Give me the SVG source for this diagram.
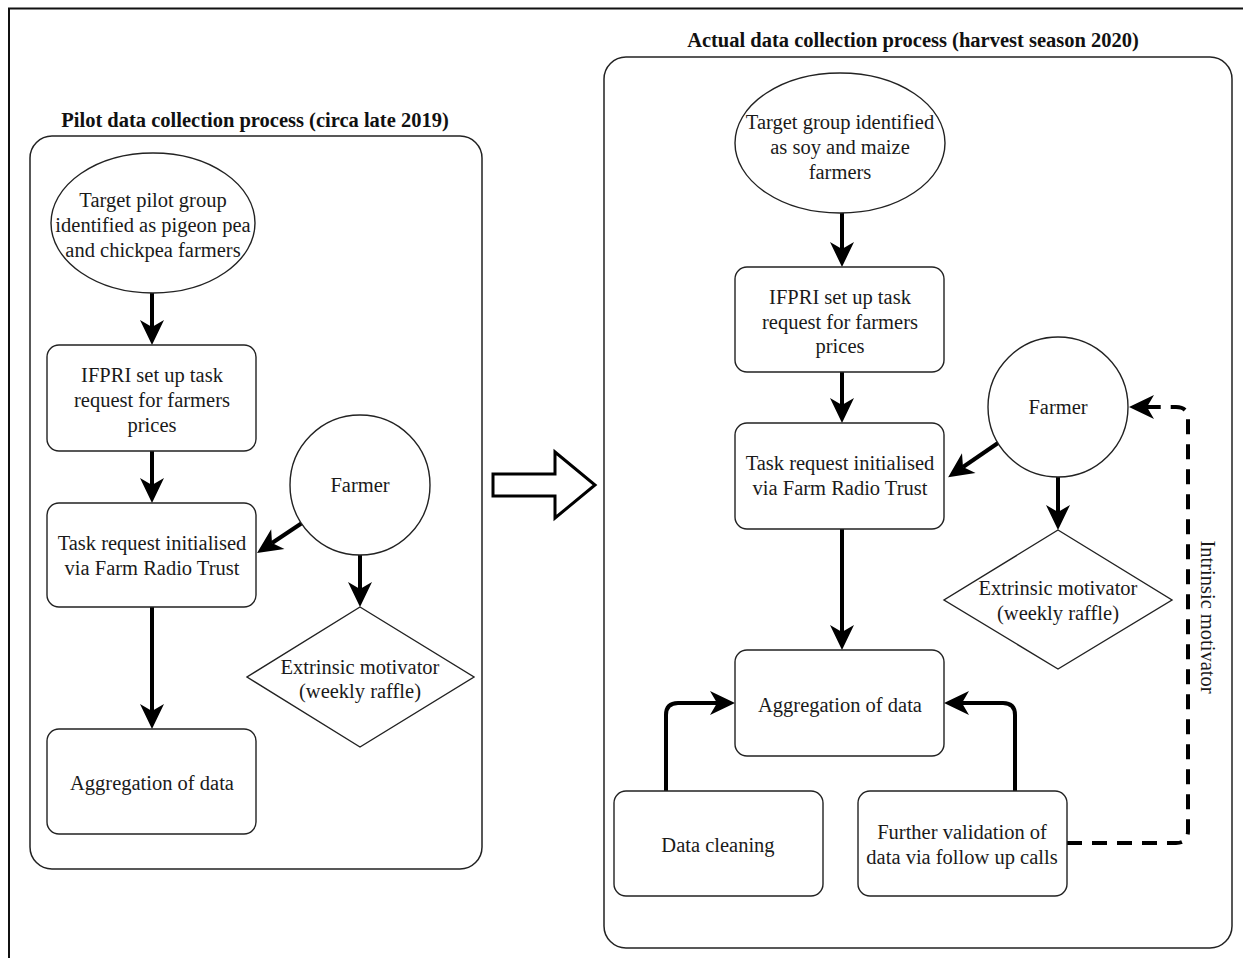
<svg xmlns="http://www.w3.org/2000/svg" width="1243" height="958" viewBox="0 0 1243 958">
<style>
.t{font-family:"Liberation Serif","Times New Roman",serif;font-size:20.5px;fill:#1a1a1a;text-anchor:middle}
.h{font-family:"Liberation Serif","Times New Roman",serif;font-size:20.5px;font-weight:bold;fill:#111;text-anchor:middle}
.n{fill:#fff;stroke:#222;stroke-width:1.4}
.c{fill:none;stroke:#222;stroke-width:1.5}
.e{fill:none;stroke:#000;stroke-width:4;marker-end:url(#ah)}
.d{fill:none;stroke:#000;stroke-width:4;stroke-dasharray:15 10;marker-end:url(#ah)}
</style>
<defs>
<marker id="ah" markerUnits="userSpaceOnUse" orient="auto" refX="0" refY="0" markerWidth="30" markerHeight="30" overflow="visible">
<path d="M18,0 L-7,-12 L0,0 L-7,12 Z" fill="#000"/>
</marker>
</defs>
<rect width="1243" height="958" fill="#fff"/>
<g id="frame">
<path d="M9,958 V8.5 H1243" fill="none" stroke="#111" stroke-width="2"/>
</g>
<g id="pilot-container">
<rect class="c" x="30" y="136" width="452" height="733" rx="22"/>
<text class="h" x="255" y="127">Pilot data collection process (circa late 2019)</text>
</g>
<g id="actual-container">
<rect class="c" x="604" y="57" width="628" height="891" rx="22"/>
<text class="h" x="913" y="47">Actual data collection process (harvest season 2020)</text>
</g>
<g id="transition-arrow">
<polygon points="493,474 555,474 555,452 595,485 555,518 555,496 493,496" fill="#fff" stroke="#000" stroke-width="3" stroke-linejoin="miter"/>
</g>
<g id="connectors">
<path class="e" d="M152,293 V327"/>
<path class="e" d="M152,451 V485"/>
<path class="e" d="M152,607 V711"/>
<path class="e" d="M302,523 L272,543"/>
<path class="e" d="M360,555 V589"/>
<path class="e" d="M842,213 V249"/>
<path class="e" d="M842,372 V405"/>
<path class="e" d="M842,529 V632"/>
<path class="e" d="M998,443 L963,467"/>
<path class="e" d="M1058,477 V512"/>
<path class="e" d="M666,791 V715 Q666,703 678,703 H717"/>
<path class="e" d="M1015,791 V715 Q1015,703 1003,703 H962"/>
<path class="d" d="M1067,843 H1176 Q1188,843 1188,831 V419 Q1188,407 1176,407 H1147"/>
<text class="t" transform="translate(1201,617) rotate(90)">Intrinsic motivator</text>
</g>
<g id="p-target">
<ellipse class="n" cx="153" cy="223" rx="102" ry="70"/>
<text class="t" x="153" y="207">Target pilot group</text>
<text class="t" x="153" y="232">identified as pigeon pea</text>
<text class="t" x="153" y="257">and chickpea farmers</text>
</g>
<g id="p-ifpri">
<rect class="n" x="47" y="345" width="209" height="106" rx="12"/>
<text class="t" x="152" y="382">IFPRI set up task</text>
<text class="t" x="152" y="407">request for farmers</text>
<text class="t" x="152" y="432">prices</text>
</g>
<g id="p-task">
<rect class="n" x="47" y="503" width="209" height="104" rx="12"/>
<text class="t" x="152" y="550">Task request initialised</text>
<text class="t" x="152" y="575">via Farm Radio Trust</text>
</g>
<g id="p-aggregation">
<rect class="n" x="47" y="729" width="209" height="105" rx="12"/>
<text class="t" x="152" y="790">Aggregation of data</text>
</g>
<g id="p-farmer">
<circle class="n" cx="360" cy="485" r="70"/>
<text class="t" x="360" y="492">Farmer</text>
</g>
<g id="p-extrinsic">
<polygon class="n" points="360,607 474,677 360,747 247,677"/>
<text class="t" x="360" y="674">Extrinsic motivator</text>
<text class="t" x="360" y="698">(weekly raffle)</text>
</g>
<g id="a-target">
<ellipse class="n" cx="840" cy="143" rx="105" ry="70"/>
<text class="t" x="840" y="129">Target group identified</text>
<text class="t" x="840" y="154">as soy and maize</text>
<text class="t" x="840" y="179">farmers</text>
</g>
<g id="a-ifpri">
<rect class="n" x="735" y="267" width="209" height="105" rx="12"/>
<text class="t" x="840" y="304">IFPRI set up task</text>
<text class="t" x="840" y="329">request for farmers</text>
<text class="t" x="840" y="353">prices</text>
</g>
<g id="a-task">
<rect class="n" x="735" y="423" width="209" height="106" rx="12"/>
<text class="t" x="840" y="470">Task request initialised</text>
<text class="t" x="840" y="495">via Farm Radio Trust</text>
</g>
<g id="a-aggregation">
<rect class="n" x="735" y="650" width="209" height="106" rx="12"/>
<text class="t" x="840" y="712">Aggregation of data</text>
</g>
<g id="a-farmer">
<circle class="n" cx="1058" cy="407" r="70"/>
<text class="t" x="1058" y="414">Farmer</text>
</g>
<g id="a-extrinsic">
<polygon class="n" points="1058,530 1172,600 1058,669 944,600"/>
<text class="t" x="1058" y="595">Extrinsic motivator</text>
<text class="t" x="1058" y="620">(weekly raffle)</text>
</g>
<g id="a-cleaning">
<rect class="n" x="614" y="791" width="209" height="105" rx="12"/>
<text class="t" x="718" y="852">Data cleaning</text>
</g>
<g id="a-validation">
<rect class="n" x="858" y="791" width="209" height="105" rx="12"/>
<text class="t" x="962" y="839">Further validation of</text>
<text class="t" x="962" y="864">data via follow up calls</text>
</g>
</svg>
